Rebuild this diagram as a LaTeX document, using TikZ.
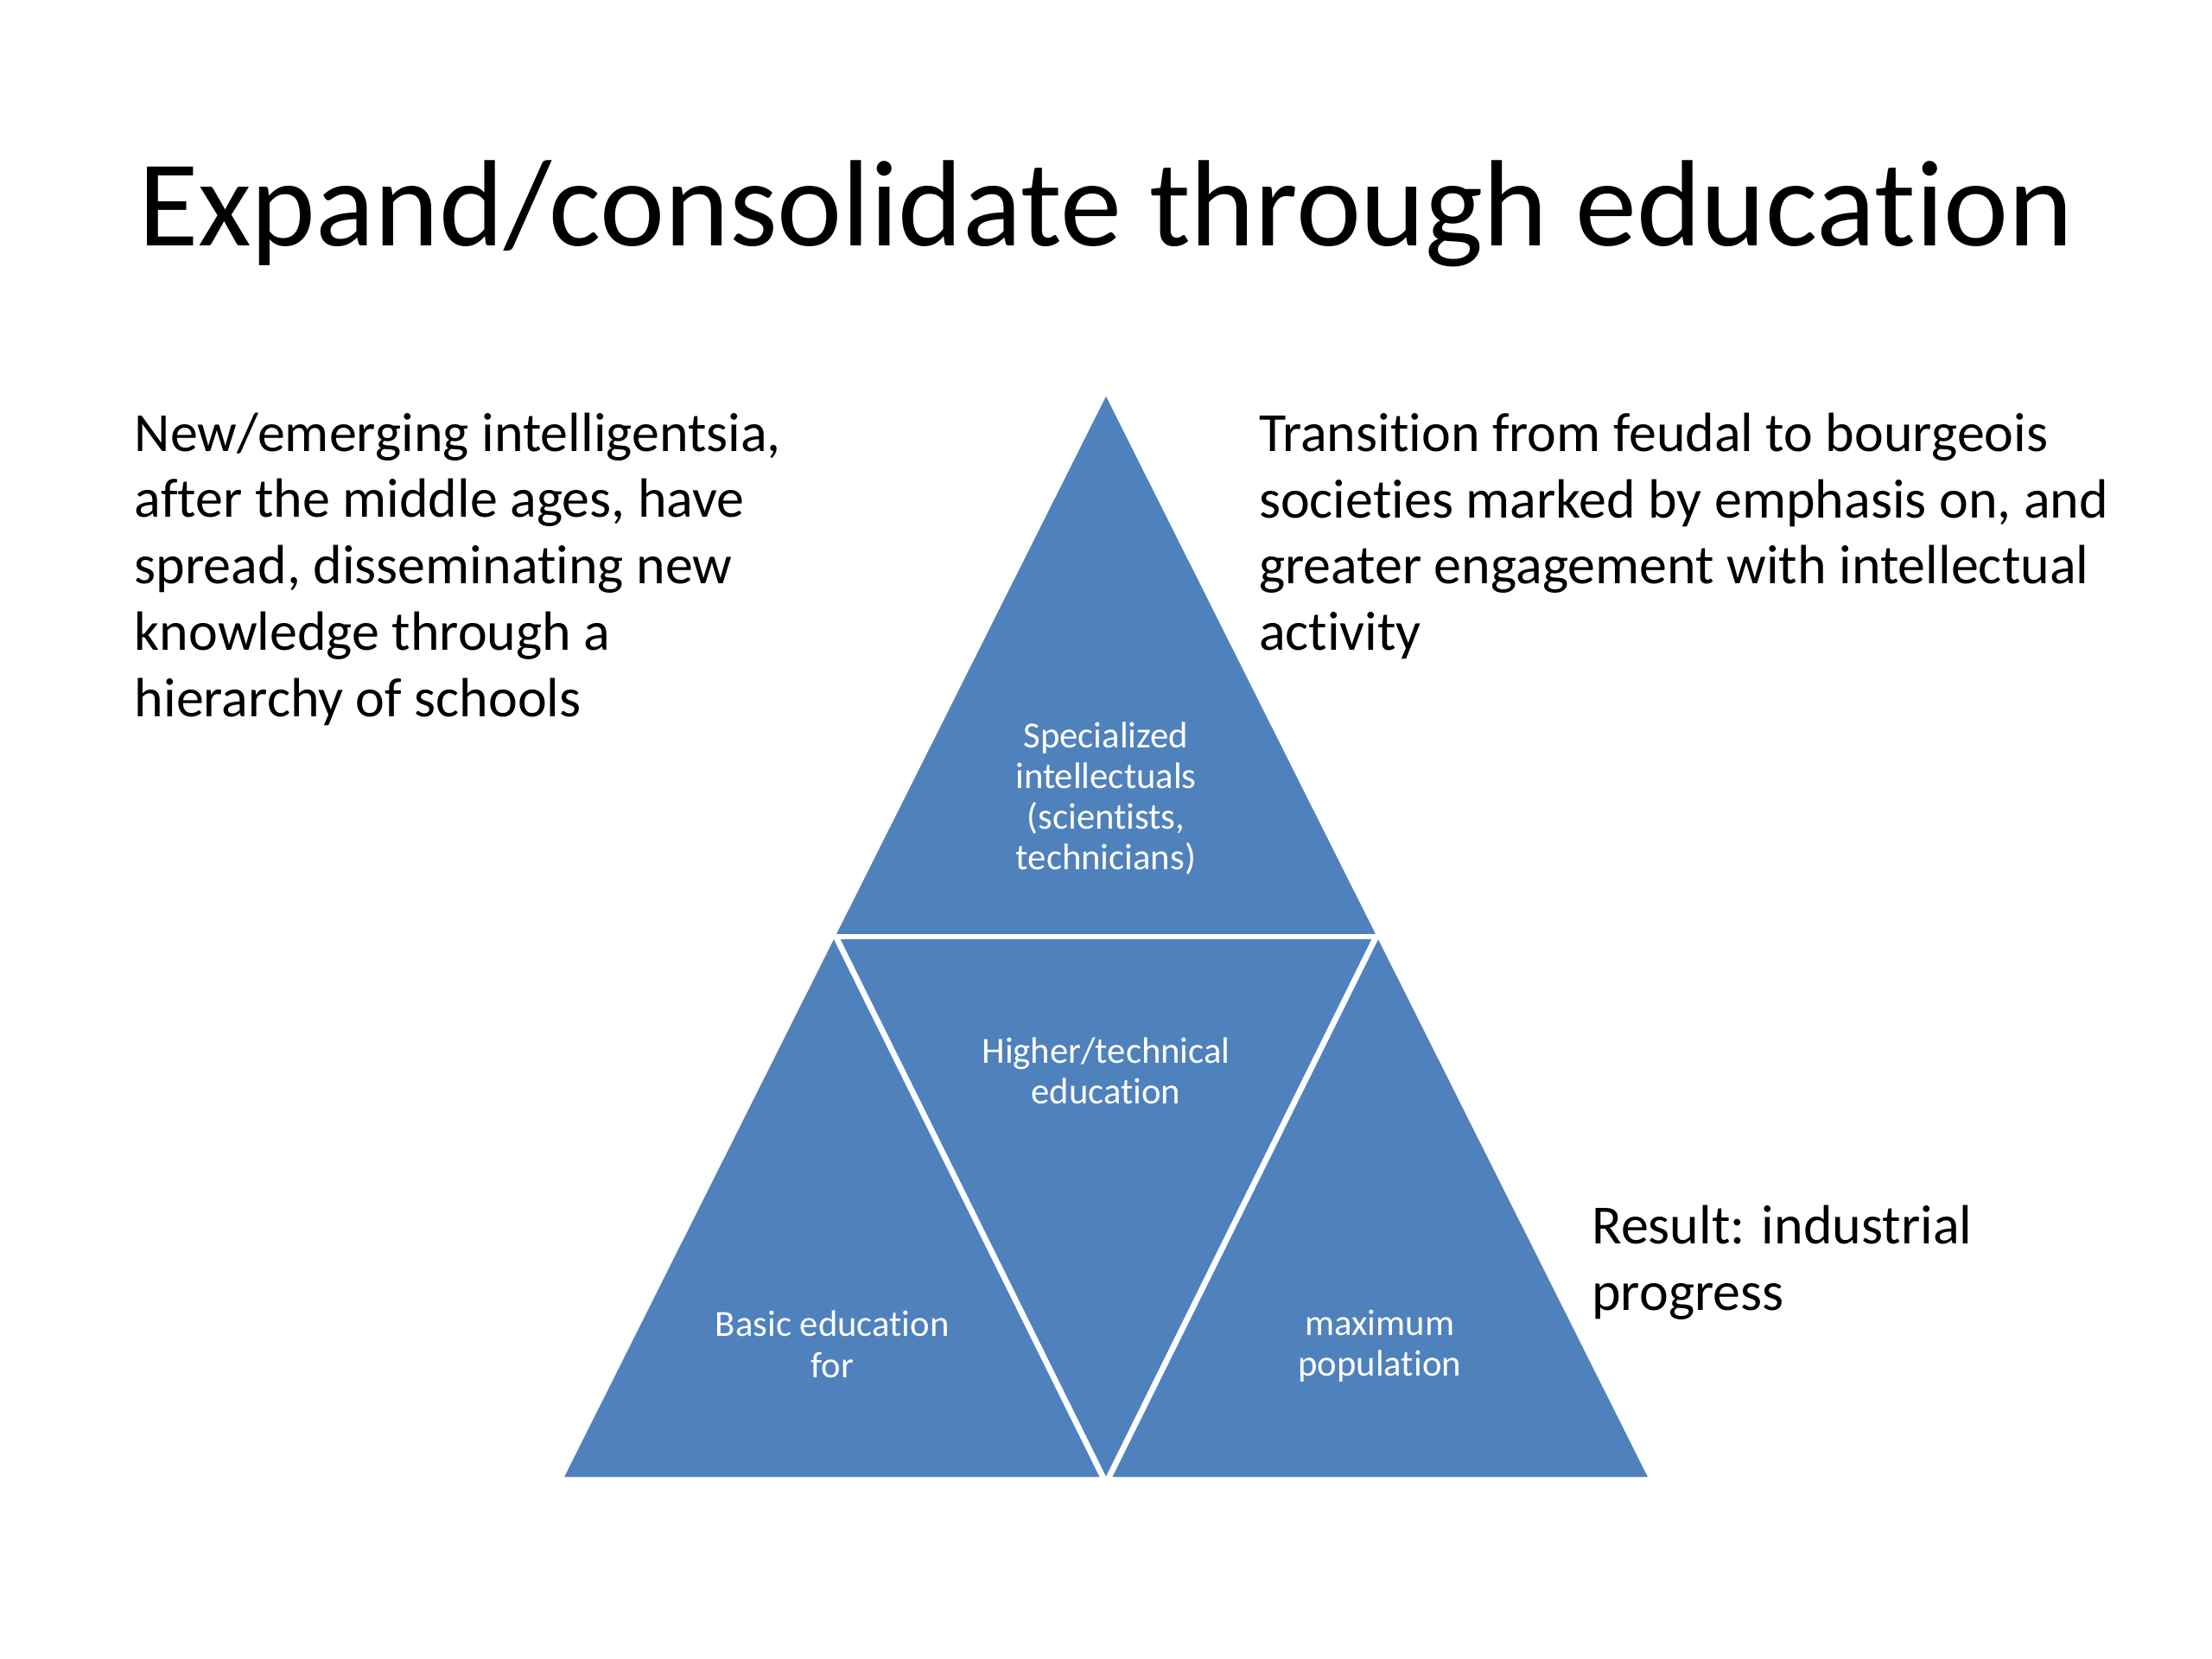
\documentclass[tikz,border=0pt]{standalone}
\usepackage{fontspec}
\setmainfont{Carlito}[Ligatures={NoCommon,TeX}]
\definecolor{segblue}{HTML}{4F81BD}
\begin{document}
\begin{tikzpicture}[x=0.459184pt,y=-0.459184pt,
  gap/.style={draw=white,line width=1.9pt,line cap=butt},
  segtext/.style={text=white,align=center,inner sep=0pt,font=\fontsize{12}{13.3}\selectfont},
  bodytext/.style={text=black,align=left,inner sep=0pt,anchor=base west,font=\fontsize{18}{21.6}\selectfont}]
\useasboundingbox (0,0) rectangle (1568,1176);
\fill[white] (0,0) rectangle (1568,1176);
% title
\node[anchor=base,inner sep=0pt,font=\fontsize{40}{48}\selectfont] (title) at (784,174) {Expand/consolidate through education};
% coordinates
\coordinate (apex) at (784,281);
\coordinate (ml) at (592.5,664);
\coordinate (mr) at (975.5,664);
\coordinate (bl) at (400,1047);
\coordinate (bm) at (784,1047);
\coordinate (br) at (1168,1047);
% pyramid and segment gaps
\fill[segblue] (apex) -- (bl) -- (br) -- cycle;
\draw[gap] ([xshift=-2pt]ml) -- ([xshift=2pt]mr);
\draw[gap] (ml) -- ([yshift=-2pt]bm);
\draw[gap] (mr) -- ([yshift=-2pt]bm);
% segment labels
\node[segtext] (ttop) at (784,566) {Specialized\\intellectuals\\(scientists,\\technicians)};
\node[segtext] (tmid) at (784,759) {Higher/technical\\education};
\node[segtext] (tleft) at (590,953) {Basic education\\for};
\node[segtext] (tright) at (978,954) {maximum\\population};
% side texts (anchored at baseline of last line)
\node[bodytext] (lefttext) at (95,508) {New/emerging intelligentsia,\\after the middle ages, have\\spread, disseminating new\\knowledge through a\\hierarchy of schools};
\node[bodytext] (righttext) at (892,461) {Transition from feudal to bourgeois\\societies marked by emphasis on, and\\greater engagement with intellectual\\activity};
\node[bodytext] (result) at (1128,929) {Result: industrial\\progress};
\end{tikzpicture}
\end{document}
